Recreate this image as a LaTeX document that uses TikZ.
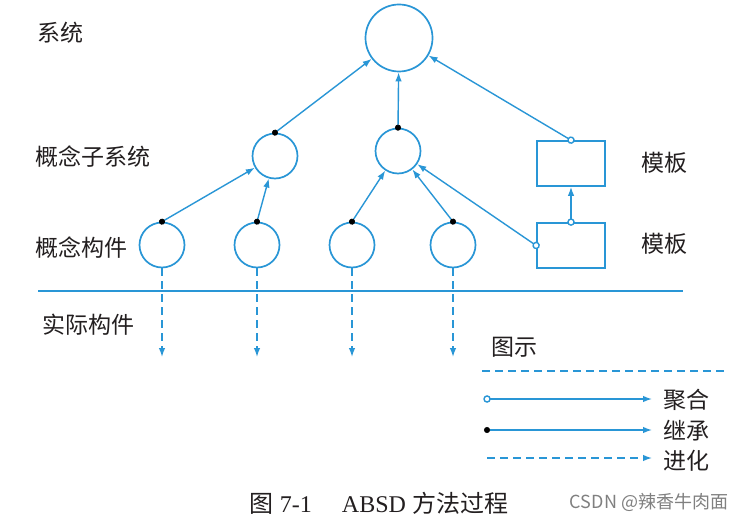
\documentclass[tikz,border=0pt]{standalone}
\usepackage{fontspec}
\setmainfont{Liberation Serif}
\newfontfamily\cjk{Noto Sans CJK SC}
\usetikzlibrary{arrows.meta}
\definecolor{lblue}{RGB}{41,150,214}
\definecolor{ink}{RGB}{35,31,32}

\begin{document}
\begin{tikzpicture}[x=1pt,y=-1pt,
  comp/.style={circle,draw=lblue,line width=1.7pt,minimum size=45pt,inner sep=0pt},
  tmpl/.style={rectangle,draw=lblue,line width=1.7pt,minimum width=68pt,minimum height=45pt,inner sep=0pt},
  lbl/.style={text=ink,font=\cjk\fontsize{23}{26}\selectfont,inner sep=0pt},
  tipend/.style={-{Latex[length=9pt,width=6.5pt]}},
  agg/.style={draw=lblue,line width=1.4pt,{Circle[open,fill=white,length=7.5pt,width=7.5pt]}-{Latex[length=9pt,width=6.5pt]},shorten <=-3.7pt},
  inh/.style={draw=lblue,line width=1.4pt,{Circle[color=black,line width=0.6pt,length=6pt,width=6pt]}-{Latex[length=9pt,width=6.5pt]},shorten <=-3pt},
  evo/.style={draw=lblue,line width=1.4pt,dash pattern=on 8pt off 5pt,tipend}]
  \useasboundingbox[fill=white] (0,0) rectangle (751,521);

  % components
  \node[comp,minimum size=67pt] (sys) at (399,38) {};
  \node[comp] (s1) at (275,156) {};
  \node[comp] (s2) at (398,151) {};
  \node[comp] (c1) at (162,245) {};
  \node[comp] (c2) at (257,245) {};
  \node[comp] (c3) at (352,245) {};
  \node[comp] (c4) at (453,245) {};
  \node[tmpl] (t1) at (571,163.5) {};
  \node[tmpl] (t2) at (571,245.5) {};

  % labels
  \node[lbl,anchor=west] (lsys) at (37,33) {系统};
  \node[lbl,anchor=west] (lsub) at (35,157) {概念子系统};
  \node[lbl,anchor=west] (lcomp) at (35,248) {概念构件};
  \node[lbl,anchor=west] (lreal) at (42,325) {实际构件};
  \node[lbl,anchor=west] (lt1) at (641,163) {模板};
  \node[lbl,anchor=west] (lt2) at (641,244) {模板};

  % connectors
  \draw[inh] (c1.north) -- (s1);
  \draw[inh] (c2.north) -- (s1);
  \draw[inh] (c3.north) -- (s2);
  \draw[inh] (c4.north) -- (s2);
  \draw[inh] (s1.north) -- (sys);
  \draw[inh] (s2.north) -- (sys);
  \draw[agg] (t1.north) -- (sys);
  \draw[agg] (t2.north) -- (t1.south);
  \draw[agg] (t2.west) -- (s2);

  \draw[lblue,line width=1.6pt] (38,291) -- (683,291);

  \foreach \i in {1,...,4} {
    \coordinate (e\i) at (c\i.south |- 0,357);
    \draw[evo] (c\i.south) -- (e\i);
  }

  % legend
  \node[lbl,anchor=west] (lkey) at (491,347) {图示};
  \draw[lblue,line width=1.4pt,dash pattern=on 8pt off 5pt] (482,371) -- (725,371);
  \coordinate (a1) at (487,399);
  \coordinate (a2) at (652,399);
  \coordinate (b1) at (487,430);
  \coordinate (b2) at (652,430);
  \coordinate (d1) at (487,458);
  \coordinate (d2) at (652,458);
  \draw[agg] (a1) -- (a2);
  \draw[inh] (b1) -- (b2);
  \draw[evo] (d1) -- (d2);
  \node[lbl,anchor=west] (lagg) at (663,400) {聚合};
  \node[lbl,anchor=west] (linh) at (663,431) {继承};
  \node[lbl,anchor=west] (levo) at (663,461) {进化};

  % caption
  \node[text=ink,font=\fontsize{24}{28}\selectfont] (cap) at (379,503)
    {{\cjk 图} 7-1\hspace{30pt}ABSD {\cjk 方法过程}};
  \node[text=gray,font=\cjk\fontsize{18}{20}\selectfont] (wm) at (649,502) {CSDN @辣香牛肉面};
\end{tikzpicture}
\end{document}
